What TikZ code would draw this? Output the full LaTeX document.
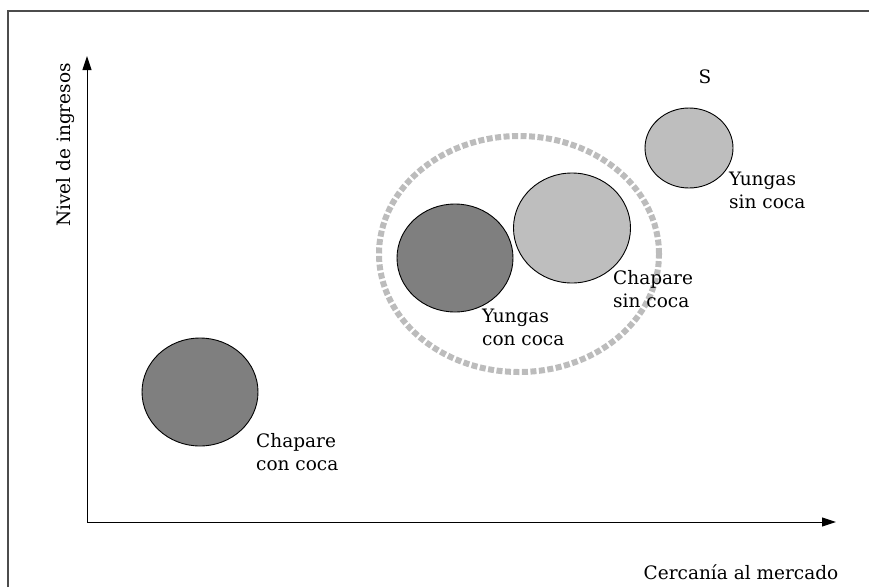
\documentclass[tikz,border=0pt]{standalone}
\usepackage{fontspec}
\setmainfont{DejaVu Serif}
\usetikzlibrary{shapes.geometric,arrows.meta}

\definecolor{darkgrey}{HTML}{7F7F7F}
\definecolor{lightgrey}{HTML}{BEBEBE}
\definecolor{dashgrey}{HTML}{BCBCBC}

\begin{document}
\begin{tikzpicture}[x=1pt,y=-1pt,
    blob/.style={draw,ellipse,line width=0.9pt,inner sep=0pt},
    lbl/.style={align=left,anchor=west,inner sep=0pt,font=\fontsize{18.5}{23}\selectfont}]
    \useasboundingbox (0,0) rectangle (869,587);
    \draw[line width=1.4pt,black!70] (8,587) -- (8,11) -- (869,11);

    % axes
    \coordinate (origin) at (87,522);
    \coordinate (ytip) at (87,56);
    \coordinate (xtip) at (836,522);
    \draw[line width=1pt,-{Triangle[length=14pt,width=9pt]}] (origin) -- (ytip);
    \draw[line width=1pt,-{Triangle[length=14pt,width=9pt]}] (origin) -- (xtip);
    \node[lbl,anchor=center,rotate=90] (ylabel) at (66,145) {Nivel de ingresos};
    \node[lbl,anchor=center] (xlabel) at (741,572) {Cercanía al mercado};

    % grupos
    \node[draw=dashgrey,ellipse,line width=6pt,dash pattern=on 6pt off 2.5pt,
          minimum width=280pt,minimum height=236pt] (grupo) at (519,254) {};
    \node[blob,fill=darkgrey,minimum width=116pt,minimum height=108pt] (chcc) at (200,392) {};
    \node[blob,fill=darkgrey,minimum width=116pt,minimum height=108pt] (yucc) at (455,258) {};
    \node[blob,fill=lightgrey,minimum width=117pt,minimum height=110pt] (chsc) at (572,228) {};
    \node[blob,fill=lightgrey,minimum width=88pt,minimum height=80pt] (yusc) at (689,148) {};

    \node[lbl] (chcclabel) at (256,452) {Chapare\\con coca};
    \node[lbl] (yucclabel) at (482,327) {Yungas\\con coca};
    \node[lbl] (chsclabel) at (613,289) {Chapare\\sin coca};
    \node[lbl] (yusclabel) at (729,190) {Yungas\\sin coca};
    \node[lbl,anchor=center] (s) at (705,77) {S};
\end{tikzpicture}
\end{document}
